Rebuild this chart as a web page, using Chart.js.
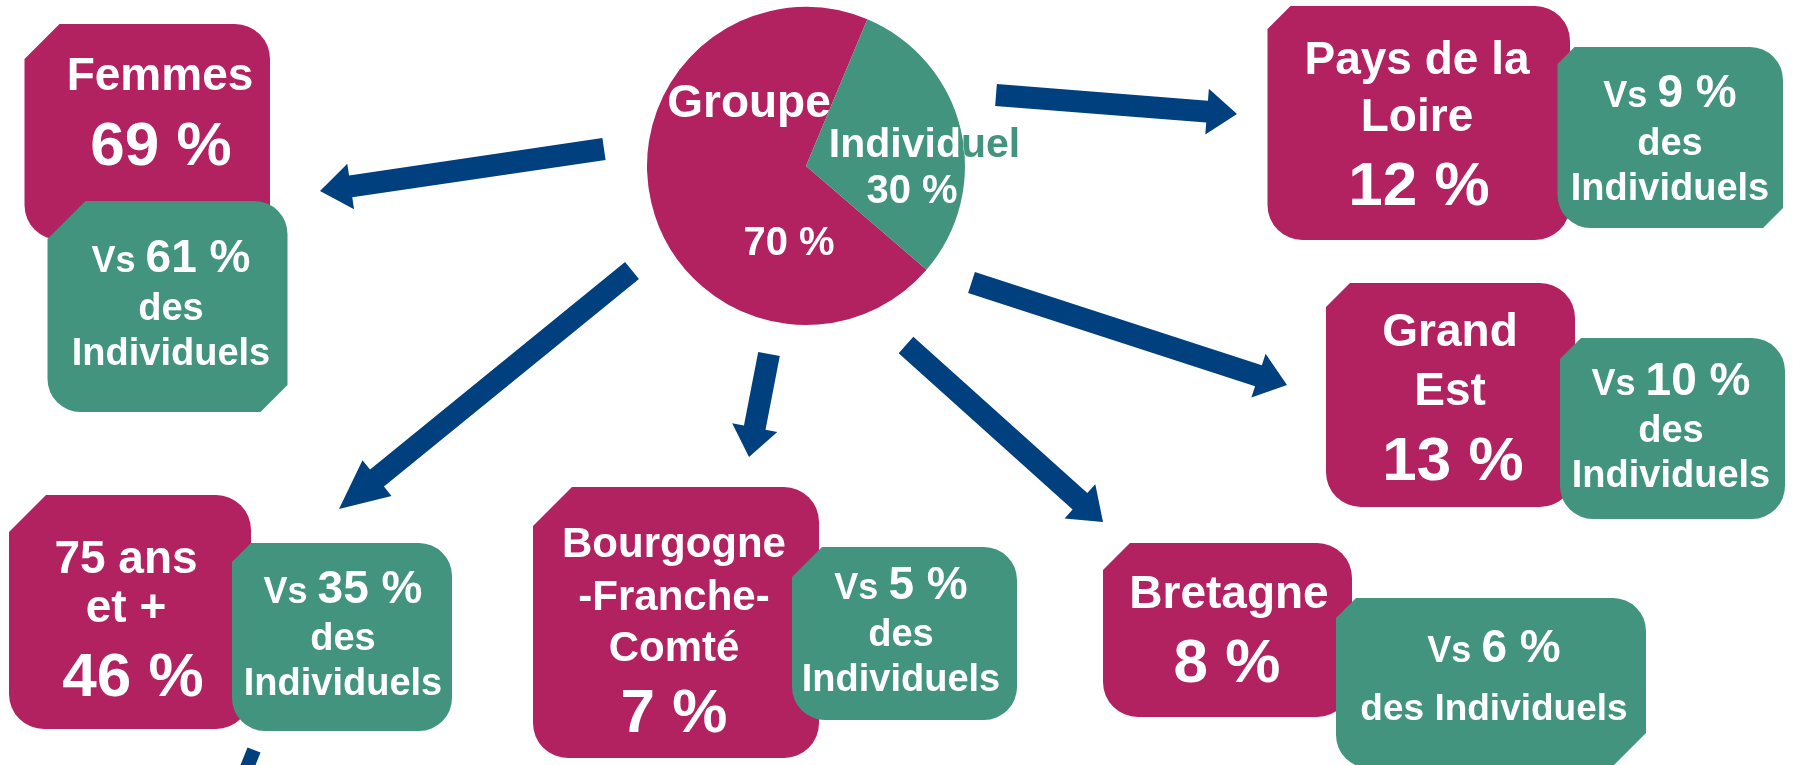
<!DOCTYPE html>
<html>
<head>
<meta charset="utf-8">
<script src="https://cdn.jsdelivr.net/npm/chart.js@4/dist/chart.umd.min.js"></script>
<style>
  html, body { margin: 0; padding: 0; background: #fff; }
  #wrap { position: relative; width: 1793px; height: 765px; }
</style>
</head>
<body>
<div id="wrap"><canvas id="pie"></canvas></div>
<script>
// pie values
var pieLabels = ['Groupe', 'Individuel'];
var pieValues = [70, 30];

// profile of the "Groupe" travellers vs "Individuels"
var categories = ['Femmes', '75 ans\net +', 'Bourgogne\n-Franche-\nComté', 'Bretagne', 'Grand\nEst', 'Pays de la\nLoire'];
var groupeShare = [69, 46, 7, 8, 13, 12];
var individuelShare = [61, 35, 5, 6, 10, 9];

var MAGENTA = '#B22160';
var GREEN = '#42947F';
var BLUE = '#01407F';
var FONT = '"Liberation Sans", Arial, sans-serif';

// where each pair of boxes sits (m = magenta box, g = green box: x0,y0,x1,y1,snip[,snipBR])
var boxLayout = [
    { m: [24.5, 24, 270, 240, 35], g: [47.5, 201, 287.5, 412, 38, 27], tx: 160, ty: [90], px: 161, py: 165, gx: 171, gy: [272, 320, 365] },
    { m: [9, 495, 251, 729, 37], g: [232, 543, 452, 731, 19, 0], tx: 126, ty: [573, 622], px: 133, py: 696, gx: 343, gy: [603, 650, 695] },
    { m: [533, 487, 819, 758, 39], g: [792, 547, 1017, 720, 30, 0], tx: 674, ty: [557, 610, 661], ts: 42, px: 674, py: 732, gx: 901, gy: [599, 646, 691] },
    { m: [1103, 543, 1352, 717, 27], g: [1336, 598, 1646, 768, 20, 35], tx: 1229, ty: [608], px: 1227, py: 682, gx: 1494, gy: [662, 720], oneLine: true },
    { m: [1326, 283, 1575, 507, 24], g: [1560, 338, 1785, 519, 21, 0], tx: 1450, ty: [346, 405], px: 1453, py: 480, gx: 1671, gy: [395, 442, 487] },
    { m: [1267.5, 6, 1570, 240, 23], g: [1557.5, 47, 1783, 228, 17, 20], tx: 1417, ty: [74, 131], px: 1419, py: 205, gx: 1670, gy: [107, 155, 200] }
];

// block arrows: tail x,y -> tip x,y, head length
var arrows = [
    [604, 149, 320, 191, 31],
    [632, 270.5, 339, 509, 49],
    [769, 354, 749, 457, 30],
    [906, 345, 1103, 522, 31],
    [971.5, 282.5, 1287, 385, 30],
    [996, 95, 1237, 114, 30]
];

function boxPath(ctx, x0, y0, x1, y1, snip, r, snipBR) {
    ctx.beginPath();
    ctx.moveTo(x0, y0 + snip);
    ctx.lineTo(x0 + snip, y0);
    ctx.lineTo(x1 - r, y0);
    ctx.arcTo(x1, y0, x1, y0 + r, r);
    if (snipBR) {
        ctx.lineTo(x1, y1 - snipBR);
        ctx.lineTo(x1 - snipBR, y1);
    } else {
        ctx.lineTo(x1, y1 - r);
        ctx.arcTo(x1, y1, x1 - r, y1, r);
    }
    ctx.lineTo(x0 + r, y1);
    ctx.arcTo(x0, y1, x0, y1 - r, r);
    ctx.closePath();
}

function arrowPath(ctx, tx, ty, px, py, hl, w, hw) {
    var dx = px - tx, dy = py - ty;
    var len = Math.sqrt(dx * dx + dy * dy);
    var ux = dx / len, uy = dy / len;
    var nx = -uy, ny = ux;
    var bx = px - ux * hl, by = py - uy * hl;
    ctx.beginPath();
    ctx.moveTo(tx + nx * w / 2, ty + ny * w / 2);
    ctx.lineTo(bx + nx * w / 2, by + ny * w / 2);
    ctx.lineTo(bx + nx * hw / 2, by + ny * hw / 2);
    ctx.lineTo(px, py);
    ctx.lineTo(bx - nx * hw / 2, by - ny * hw / 2);
    ctx.lineTo(bx - nx * w / 2, by - ny * w / 2);
    ctx.lineTo(tx - nx * w / 2, ty - ny * w / 2);
    ctx.closePath();
}

// text made of runs of different sizes, centred on cx
function richLine(ctx, runs, cx, y) {
    var total = 0, widths = [];
    runs.forEach(function (r) {
        ctx.font = 'bold ' + r[1] + 'px ' + FONT;
        var w = ctx.measureText(r[0]).width;
        widths.push(w);
        total += w;
    });
    var x = cx - total / 2;
    ctx.textAlign = 'left';
    runs.forEach(function (r, i) {
        ctx.font = 'bold ' + r[1] + 'px ' + FONT;
        ctx.fillText(r[0], x, y);
        x += widths[i];
    });
}

function text(ctx, s, x, y, size) {
    ctx.font = 'bold ' + size + 'px ' + FONT;
    ctx.textAlign = 'center';
    ctx.fillText(s, x, y);
}

var decoPlugin = {
    id: 'deco',
    beforeDatasetsDraw: function (chart) {
        var ctx = chart.ctx;
        ctx.save();
        ctx.fillStyle = BLUE;
        arrows.forEach(function (a) {
            arrowPath(ctx, a[0], a[1], a[2], a[3], a[4], 22, 46);
            ctx.fill();
        });
        // piece of an arrow leaving the bottom edge
        arrowPath(ctx, 254, 750, 222, 830, 0, 14, 14);
        ctx.fill();

        ctx.textBaseline = 'alphabetic';
        categories.forEach(function (cat, i) {
            var L = boxLayout[i];
            var m = L.m, g = L.g;
            ctx.fillStyle = MAGENTA;
            boxPath(ctx, m[0], m[1], m[2], m[3], m[4], 35, 0);
            ctx.fill();
            ctx.fillStyle = GREEN;
            boxPath(ctx, g[0], g[1], g[2], g[3], g[4], 33, g[5]);
            ctx.fill();

            ctx.fillStyle = '#fff';
            cat.split('\n').forEach(function (line, k) {
                text(ctx, line, L.tx, L.ty[k], L.ts || 46);
            });
            text(ctx, groupeShare[i] + ' %', L.px, L.py, 62);

            richLine(ctx, [['Vs ', 36], [individuelShare[i] + ' %', 46]], L.gx, L.gy[0]);
            if (L.oneLine) {
                text(ctx, 'des Individuels', L.gx, L.gy[1], 37);
            } else {
                text(ctx, 'des', L.gx, L.gy[1], 38);
                text(ctx, 'Individuels', L.gx, L.gy[2], 38);
            }
        });
        ctx.restore();
    },
    afterDatasetsDraw: function (chart) {
        var ctx = chart.ctx;
        var arc = chart.getDatasetMeta(0).data[0];
        ctx.save();
        ctx.textBaseline = 'alphabetic';
        ctx.fillStyle = '#fff';
        text(ctx, pieLabels[0], 749, 117, 46);
        text(ctx, pieValues[0] + ' %', 789, 255, 40);
        text(ctx, pieValues[1] + ' %', 912, 203, 40);
        // "Individuel" spills out of the pie: green outside, white inside
        ctx.fillStyle = GREEN;
        text(ctx, pieLabels[1], 924.5, 157, 41);
        ctx.beginPath();
        ctx.arc(arc.x, arc.y, arc.outerRadius, 0, Math.PI * 2);
        ctx.clip();
        ctx.fillStyle = '#fff';
        text(ctx, pieLabels[1], 924.5, 157, 41);
        ctx.restore();
    }
};

var ctxp = document.getElementById('pie').getContext('2d');
var pieChart = new Chart(ctxp, {
    type: 'pie',
    data: {
        labels: pieLabels,
        datasets: [{
            data: pieValues,
            backgroundColor: [MAGENTA, GREEN],
            borderWidth: 0,
            hoverOffset: 0
        }]
    },
    options: {
        responsive: true,
        maintainAspectRatio: false,
        animation: false,
        rotation: 130.7,
        layout: { padding: { left: 647, right: 828, top: 7, bottom: 440 } },
        plugins: {
            legend: { display: false },
            tooltip: { enabled: false }
        }
    },
    plugins: [decoPlugin]
});
</script>
</body>
</html>
